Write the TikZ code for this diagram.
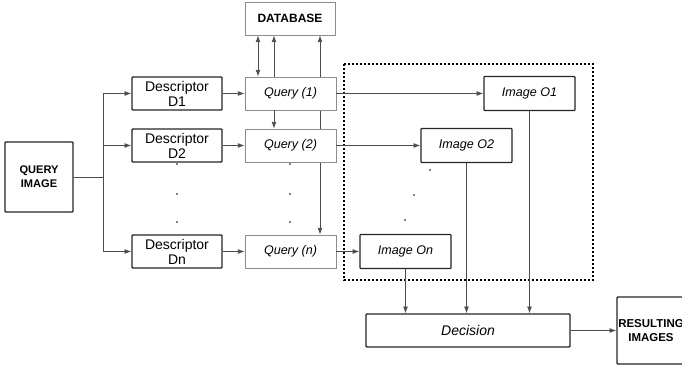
\documentclass[tikz,border=0pt]{standalone}
\usepackage{fontspec}
\setmainfont{Liberation Sans}
\usetikzlibrary{arrows.meta,backgrounds}
\tikzset{
  conn/.style={draw=black!70,line width=0.55pt},
  arr/.style={conn,-{Latex[length=5pt,width=3.6pt]}},
  darr/.style={conn,{Latex[length=5pt,width=3.6pt]}-{Latex[length=5pt,width=3.6pt]}},
  descbox/.style={draw=black!85,line width=1.1pt,fill=white,rounded corners=0.6pt,minimum width=67.5pt,minimum height=24.75pt,inner sep=0pt,align=center,font=\fontsize{10.5}{11.3}\selectfont},
  querybox/.style={draw=black!45,line width=0.6pt,fill=white,minimum width=68.25pt,minimum height=24.75pt,inner sep=0pt,font=\fontsize{9.4}{11}\selectfont\itshape},
  imgbox/.style={draw=black!85,line width=1.0pt,fill=white,rounded corners=0.6pt,minimum width=68.25pt,minimum height=25.5pt,inner sep=0pt,font=\fontsize{9.4}{11}\selectfont\itshape},
  termbox/.style={draw=black!85,line width=1.1pt,fill=white,rounded corners=0.6pt,inner sep=0pt,align=center,font=\fontsize{8.3}{10.5}\selectfont\bfseries},
  frame/.style={line width=1.4pt,dash pattern=on 1.4pt off 1.6pt},
  dot/.style={fill=black}
}
\begin{document}
\begin{tikzpicture}[x=0.75pt,y=-0.75pt]
        \useasboundingbox (0,0) rectangle (682,367);
        %% input
        \node[termbox,minimum width=51pt,minimum height=52.5pt] (QI) at (39,177) {QUERY\\IMAGE};
        \node[draw=black!45,line width=0.6pt,fill=white,minimum width=67.5pt,minimum height=24.75pt,inner sep=0pt,font=\fontsize{9}{11}\selectfont\bfseries] (DB) at (290,18.5) {DATABASE};
        %% descriptors
        \node[descbox] (D1) at (177,93.5) {Descriptor\\D1};
        \node[descbox] (D2) at (177,145.5) {Descriptor\\D2};
        \node[descbox] (Dn) at (177,251.5) {Descriptor\\Dn};
        %% queries
        \node[querybox] (Q1) at (290.5,93.5) {Query (1)};
        \node[querybox] (Q2) at (290.5,145.5) {Query (2)};
        \node[querybox] (Qn) at (290.5,251.5) {Query (n)};
        %% images
        \node[imgbox] (O1) at (529.5,93.5) {Image O1};
        \node[imgbox] (O2) at (466.5,145.5) {Image O2};
        \node[imgbox] (On) at (405.5,251.5) {Image On};
        %% decision
        \node[descbox,minimum width=153pt,font=\fontsize{10.5}{12}\selectfont\itshape] (Dec) at (468,330.5) {Decision};
        \node[termbox,minimum width=51pt,minimum height=50.25pt,font=\fontsize{8.6}{10.5}\selectfont\bfseries] (Res) at (651,330.5) {RESULTING\\IMAGES};
        %% dotted frame
        \draw[frame] (344,64) rectangle (593,280);
        %% query image to descriptors
        \coordinate (split) at (103,177);
        \draw[conn] (QI.east) -- (split);
        \draw[arr] (split) |- (D1.west);
        \draw[arr] (split) |- (D2.west);
        \draw[arr] (split) |- (Dn.west);
        %% descriptors to queries
        \draw[arr] (D1) -- (Q1);
        \draw[arr] (D2) -- (Q2);
        \draw[arr] (Dn) -- (Qn);
        %% database links
        \coordinate (t1) at (258,0);
        \coordinate (t2) at (274,0);
        \coordinate (t3) at (320,0);
        \draw[darr] (t1 |- DB.south) -- (t1 |- Q1.north);
        \draw[arr] (t2 |- Q1.north) -- (t2 |- DB.south);
        \draw[arr] (t2 |- Q1.south) -- (t2 |- Q2.north);
        \begin{scope}[on background layer]
        \draw[darr] (t3 |- DB.south) -- (t3 |- Qn.north);
        \end{scope}
        %% queries to images
        \draw[arr] (Q1) -- (O1);
        \draw[arr] (Q2) -- (O2);
        \draw[arr] (Qn) -- (On);
        %% images to decision
        \draw[arr] (On) -- (On |- Dec.north);
        \draw[arr] (O2) -- (O2 |- Dec.north);
        \draw[arr] (O1) -- (O1 |- Dec.north);
        \draw[arr] (Dec) -- (Res);
        %% ellipsis dots
        \foreach \y in {164,194,222} {
          \fill[dot] (177,\y) circle (0.9);
          \fill[dot] (290,\y) circle (0.9);
        }
        \fill[dot] (430,170) circle (0.9);
        \fill[dot] (414,195) circle (0.9);
        \fill[dot] (405,220) circle (0.9);
    \end{tikzpicture}
\end{document}
